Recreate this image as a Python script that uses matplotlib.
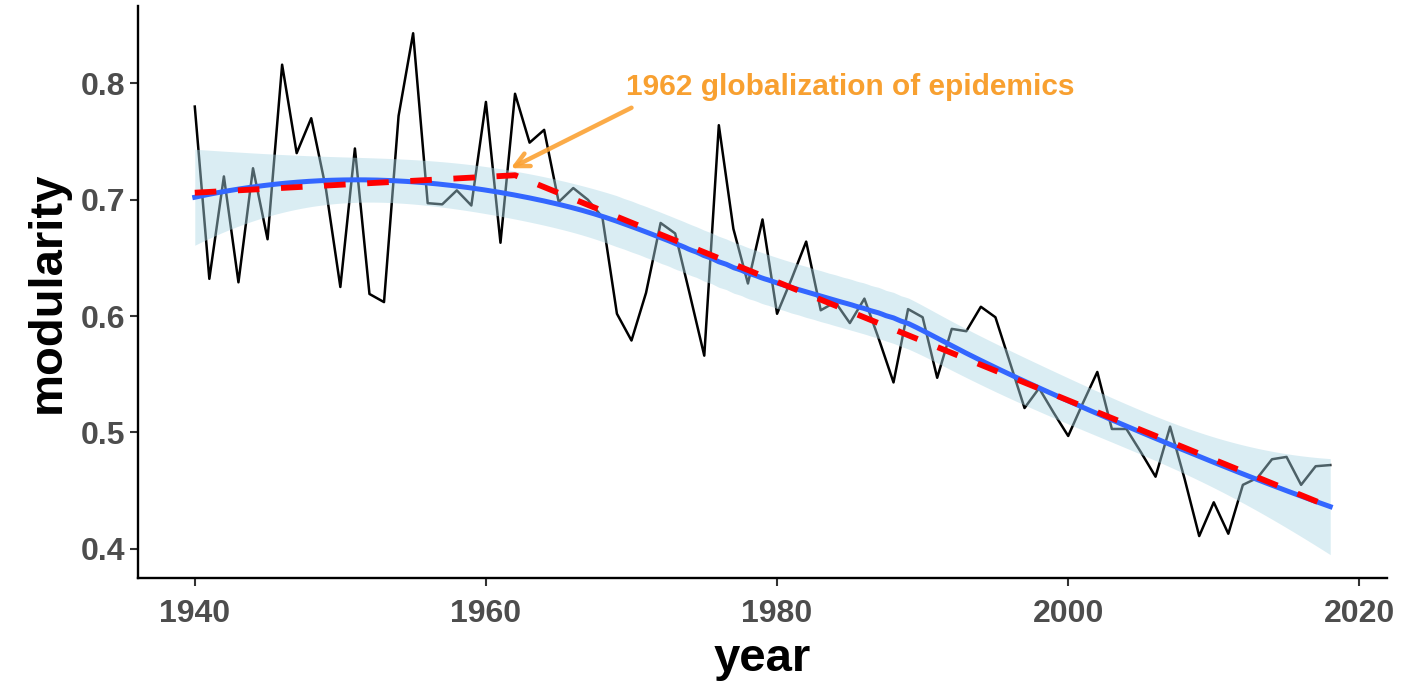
import numpy as np
import matplotlib
matplotlib.use("Agg")
import matplotlib.pyplot as plt

# Yearly network modularity
years = list(range(1940, 2019))
modularity = [
    0.780, 0.632, 0.720, 0.629, 0.727, 0.666, 0.816, 0.740, 0.770, 0.710,
    0.625, 0.744, 0.619, 0.612, 0.772, 0.843, 0.697, 0.696, 0.708, 0.695,
    0.784, 0.663, 0.791, 0.749, 0.760, 0.698, 0.710, 0.700, 0.685, 0.602,
    0.579, 0.620, 0.680, 0.671, 0.619, 0.566, 0.764, 0.675, 0.628, 0.683,
    0.602, 0.632, 0.664, 0.605, 0.612, 0.594, 0.615, 0.580, 0.543, 0.606,
    0.599, 0.547, 0.589, 0.587, 0.608, 0.599, 0.560, 0.521, 0.538, 0.517,
    0.497, 0.525, 0.552, 0.503, 0.503, 0.483, 0.462, 0.505, 0.460, 0.411,
    0.440, 0.413, 0.455, 0.461, 0.477, 0.479, 0.455, 0.471, 0.472,
]

# Segmented trend with a break in 1962
segment_years = [1940, 1962, 2018]
segment_values = [0.706, 0.721, 0.436]

x_ticks = [1940, 1960, 1980, 2000, 2020]
y_ticks = [0.4, 0.5, 0.6, 0.7, 0.8]
annotation_text = "1962 globalization of epidemics"


def loess_fit(x, y, x_new, span=0.75):
    """Local quadratic regression (tricube weights) with pointwise 95% band."""
    x = np.asarray(x, float)
    y = np.asarray(y, float)
    n = len(x)
    q = int(np.floor(n * span))

    def operator_row(x0):
        d = np.abs(x - x0)
        h = np.sort(d)[q - 1]
        w = np.clip(1 - (d / h) ** 3, 0, None) ** 3
        X = np.column_stack([np.ones(n), x - x0, (x - x0) ** 2])
        XtW = X.T * w
        return np.linalg.solve(XtW @ X, XtW)[0]

    L = np.array([operator_row(v) for v in x])
    resid = y - L @ y
    M = np.eye(n) - L
    MtM = M.T @ M
    delta1 = np.trace(MtM)
    delta2 = np.trace(MtM @ MtM)
    sigma = np.sqrt(np.sum(resid ** 2) / delta1)
    df = delta1 ** 2 / delta2
    z = 1.959964
    t = z + (z ** 3 + z) / (4 * df) + (5 * z ** 5 + 16 * z ** 3 + 3 * z) / (96 * df ** 2)

    rows = np.array([operator_row(v) for v in x_new])
    fit = rows @ y
    se = sigma * np.sqrt(np.sum(rows ** 2, axis=1))
    return fit, fit - t * se, fit + t * se


plt.rcParams["font.family"] = ["Liberation Sans", "DejaVu Sans"]

fig = plt.figure(figsize=(14.14, 6.81), dpi=100)
ax = fig.add_axes([0.0976, 0.1513, 0.8833, 0.8392])

grid = np.linspace(min(years), max(years), 300)
fit, lower, upper = loess_fit(years, modularity, grid)

ax.plot(years, modularity, color="black", lw=1.8, zorder=2)
ax.fill_between(grid, lower, upper, color="#ADD8E6", alpha=0.45, lw=0, zorder=3)
ax.plot(grid, fit, color="#3366FF", lw=3.6, zorder=4)
ax.plot(segment_years, segment_values, color="red", lw=4.2,
        linestyle=(0, (3.7, 3.7)), zorder=5)

ax.annotate("", xy=(1961.7, 0.727), xytext=(1970.0, 0.779),
            arrowprops=dict(arrowstyle="->,head_length=1.0,head_width=0.5",
                            color="#FBA234", lw=3.2, alpha=0.9,
                            shrinkA=0, shrinkB=0),
            zorder=6)
ax.text(1985, 0.797, annotation_text, color="#F8A030", fontsize=21.5,
        fontweight="bold", ha="center", va="center", zorder=7)

ax.set_xlim(1936.1, 2021.9)
ax.set_ylim(0.375, 0.866)
ax.set_xticks(x_ticks)
ax.set_yticks(y_ticks)
ax.set_xticklabels([str(v) for v in x_ticks])
ax.set_yticklabels([f"{v:.1f}" for v in y_ticks])

for side in ("top", "right"):
    ax.spines[side].set_visible(False)
for side in ("left", "bottom"):
    ax.spines[side].set_linewidth(1.7)
    ax.spines[side].set_color("black")

ax.tick_params(axis="both", length=6, width=1.5, color="#333333",
               labelcolor="#4D4D4D", labelsize=23)
ax.tick_params(axis="x", pad=9)
ax.tick_params(axis="y", pad=3)
for lab in ax.get_xticklabels() + ax.get_yticklabels():
    lab.set_fontweight("bold")

ax.set_xlabel("year", fontsize=34, fontweight="bold", color="black", labelpad=6)
ax.set_ylabel("modularity", fontsize=34, fontweight="bold", color="black", labelpad=8)

fig.savefig("out.png", dpi=100, facecolor="white")
